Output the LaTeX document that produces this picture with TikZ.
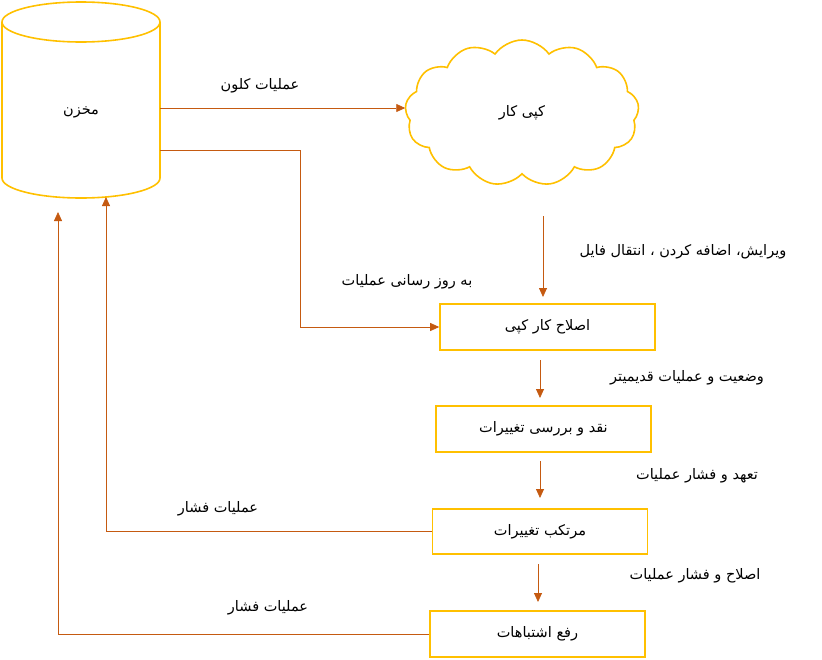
\documentclass[tikz,border=0pt]{standalone}
\usepackage{fontspec}
\TeXXeTstate=1
\newfontfamily\arabicfont[Script=Arabic]{DejaVu Sans}
\usetikzlibrary{shapes.symbols,arrows.meta}
\definecolor{ln}{RGB}{197,90,17}
\definecolor{bx}{RGB}{255,192,0}
\newcommand{\fa}[1]{{\arabicfont\fontsize{14.5}{17}\selectfont\beginR #1\endR}}
\tikzset{x=1pt,y=-1pt,
 conn/.style={draw=ln,line width=0.8pt},
 arr/.style={conn,-{Triangle[length=9pt,width=8pt]}},
 stepbox/.style={draw=bx,line width=1.6pt,minimum width=215pt,minimum height=46pt,inner sep=0pt},
 lbl/.style={inner sep=0pt}}
\begin{document}
\begin{tikzpicture}
\useasboundingbox (0,0) rectangle (822,659);
% cylinder
\draw[line width=1.6pt,draw=bx] (2,22) -- (2,178) arc[start angle=180,end angle=0,x radius=79,y radius=20] -- (160,22);
\draw[line width=1.6pt,draw=bx] (81,22) ellipse[x radius=79,y radius=20];
\node[lbl] (rep) at (81,112) {\fa{مخزن}};
\coordinate (repA) at (160,108);
\coordinate (repB) at (160,150);
\coordinate (repC) at (106,197);
\coordinate (repD) at (58,212);
% cloud
\node[cloud,draw=bx,line width=1.6pt,cloud puffs=13,cloud puff arc=110,aspect=1.6,minimum width=234pt,minimum height=146pt,inner sep=0pt] (wc) at (522,113) {\fa{کپی کار}};
\node[stepbox] (b1) at (547.5,327) {\fa{اصلاح کار کپی}};
\node[stepbox] (b2) at (543.5,429) {\fa{نقد و بررسی تغییرات}};
\node[stepbox,minimum height=45pt] (b3) at (540,531.5) {\fa{مرتکب تغییرات}};
\node[stepbox] (b4) at (537.5,634) {\fa{رفع اشتباهات}};
% connectors
\draw[arr] (repA) -- (wc.west |- repA);
\node[lbl] at (260,86) {\fa{عملیات کلون}};
\draw[arr] (repB) -- (300,150) |- (b1.west);
\node[lbl] at (407,282) {\fa{به روز رسانی عملیات}};
\draw[arr] (543,216) -- (543,297);
\node[lbl] at (683,252) {\fa{ویرایش، اضافه کردن ، انتقال فایل}};
\draw[arr] (540,360) -- (540,398);
\node[lbl] at (687,378) {\fa{وضعیت و عملیات قدیمیتر}};
\draw[arr] (540,461) -- (540,498);
\node[lbl] at (697,476) {\fa{تعهد و فشار عملیات}};
\draw[arr] (538,564) -- (538,602);
\node[lbl] at (695,576) {\fa{اصلاح و فشار عملیات}};
\draw[arr] (b3.west) -| (repC);
\node[lbl] at (218,509) {\fa{عملیات فشار}};
\draw[arr] (b4.west) -| (repD);
\node[lbl] at (268,608) {\fa{عملیات فشار}};
\end{tikzpicture}
\end{document}
